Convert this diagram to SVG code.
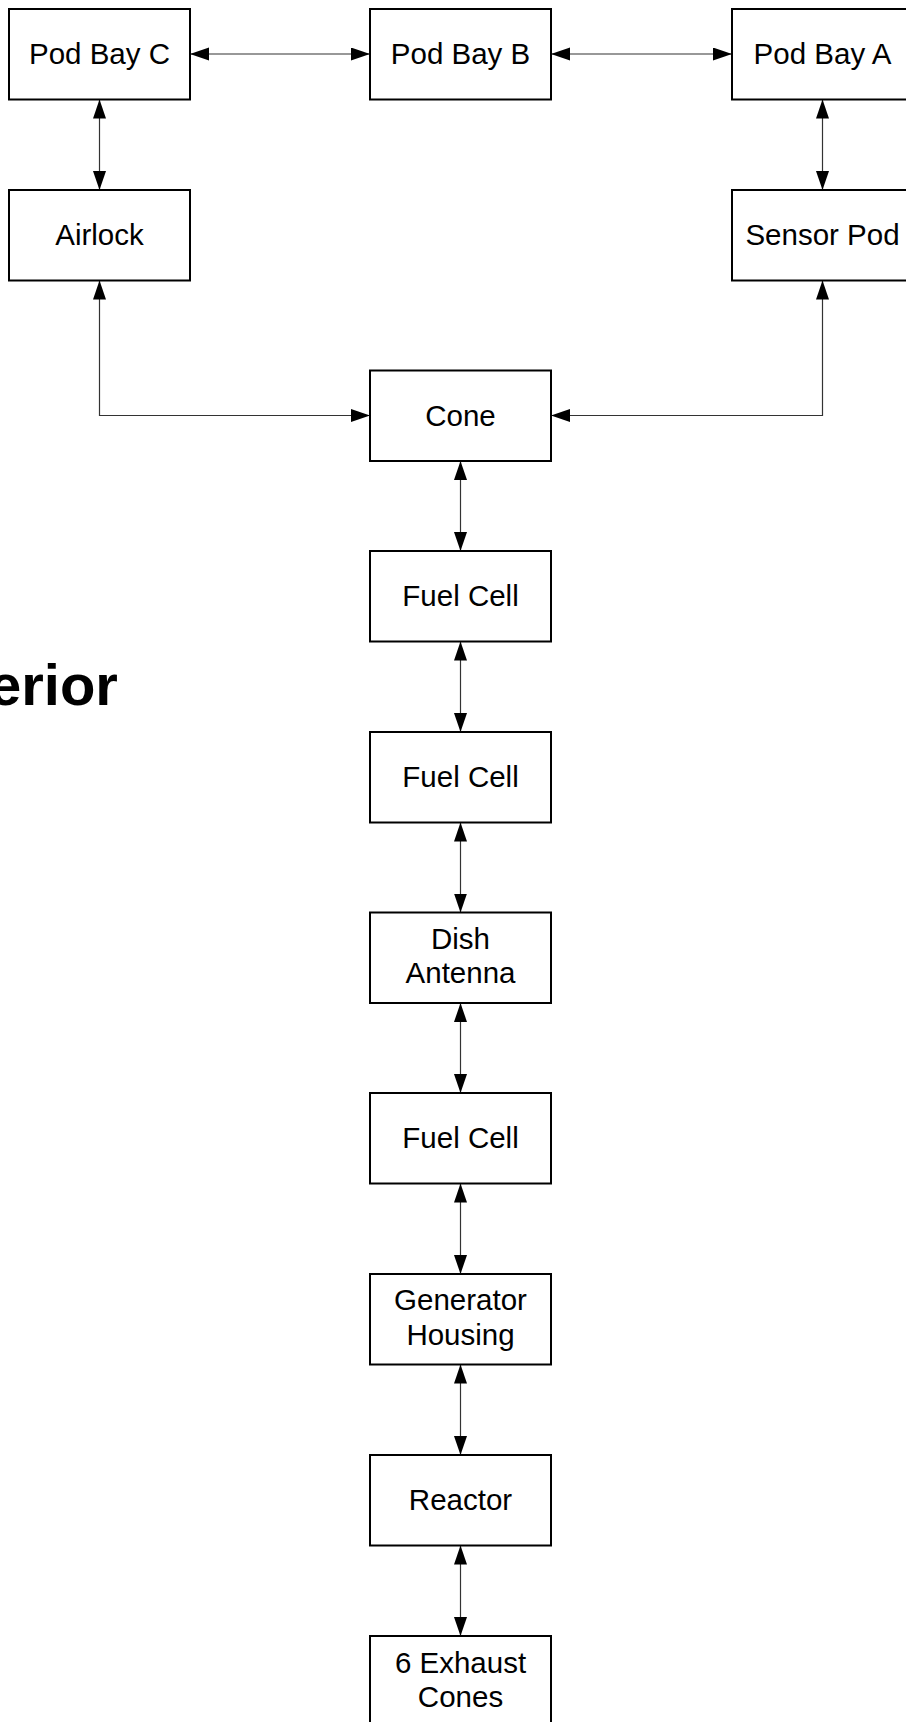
<svg xmlns="http://www.w3.org/2000/svg" width="906" height="1722" viewBox="0 0 906 1722">
<style>
.box{fill:#fff;stroke:#000;stroke-width:2}
.lbl{font-family:"Liberation Sans",Arial,sans-serif;font-size:29.5px;fill:#000;text-anchor:middle}
.title{font-family:"Liberation Sans",Arial,sans-serif;font-size:58px;font-weight:bold;fill:#000}
.edge{fill:none;stroke:#333;stroke-width:1.2}
</style>
<defs>
<marker id="ah" markerUnits="userSpaceOnUse" markerWidth="20" markerHeight="14" refX="19" refY="6.5" orient="auto-start-reverse" viewBox="0 0 20 14">
<path d="M0,0 L19,6.5 L0,13 z" fill="#000"/>
</marker>
</defs>
<rect width="906" height="1722" fill="#fff"/>
<text class="title" x="-11" y="705">erior</text>
<g id="connectors">
<line class="edge" x1="190" y1="54" x2="370" y2="54" marker-start="url(#ah)" marker-end="url(#ah)"/>
<line class="edge" x1="551" y1="54" x2="732" y2="54" marker-start="url(#ah)" marker-end="url(#ah)"/>
<line class="edge" x1="99.5" y1="99.5" x2="99.5" y2="190" marker-start="url(#ah)" marker-end="url(#ah)"/>
<line class="edge" x1="822.5" y1="99.5" x2="822.5" y2="190" marker-start="url(#ah)" marker-end="url(#ah)"/>
<polyline class="edge" points="99.5,280.5 99.5,415.5 370,415.5" marker-start="url(#ah)" marker-end="url(#ah)"/>
<polyline class="edge" points="822.5,280.5 822.5,415.5 551,415.5" marker-start="url(#ah)" marker-end="url(#ah)"/>
<line class="edge" x1="460.5" y1="461" x2="460.5" y2="551" marker-start="url(#ah)" marker-end="url(#ah)"/>
<line class="edge" x1="460.5" y1="641.5" x2="460.5" y2="732" marker-start="url(#ah)" marker-end="url(#ah)"/>
<line class="edge" x1="460.5" y1="822.5" x2="460.5" y2="912.5" marker-start="url(#ah)" marker-end="url(#ah)"/>
<line class="edge" x1="460.5" y1="1003" x2="460.5" y2="1093" marker-start="url(#ah)" marker-end="url(#ah)"/>
<line class="edge" x1="460.5" y1="1183.5" x2="460.5" y2="1274" marker-start="url(#ah)" marker-end="url(#ah)"/>
<line class="edge" x1="460.5" y1="1364.5" x2="460.5" y2="1455" marker-start="url(#ah)" marker-end="url(#ah)"/>
<line class="edge" x1="460.5" y1="1545.5" x2="460.5" y2="1636" marker-start="url(#ah)" marker-end="url(#ah)"/>
</g>
<g id="podbayc"><rect class="box" x="9" y="9" width="181" height="90.5"/><text class="lbl" x="99.5" y="64">Pod Bay C</text></g>
<g id="podbayb"><rect class="box" x="370" y="9" width="181" height="90.5"/><text class="lbl" x="460.5" y="64">Pod Bay B</text></g>
<g id="podbaya"><rect class="box" x="732" y="9" width="181" height="90.5"/><text class="lbl" x="822.5" y="64">Pod Bay A</text></g>
<g id="airlock"><rect class="box" x="9" y="190" width="181" height="90.5"/><text class="lbl" x="99.5" y="245">Airlock</text></g>
<g id="sensorpod"><rect class="box" x="732" y="190" width="181" height="90.5"/><text class="lbl" x="822.5" y="245">Sensor Pod</text></g>
<g id="cone"><rect class="box" x="370" y="370.5" width="181" height="90.5"/><text class="lbl" x="460.5" y="425.5">Cone</text></g>
<g id="fuelcell1"><rect class="box" x="370" y="551" width="181" height="90.5"/><text class="lbl" x="460.5" y="606">Fuel Cell</text></g>
<g id="fuelcell2"><rect class="box" x="370" y="732" width="181" height="90.5"/><text class="lbl" x="460.5" y="787">Fuel Cell</text></g>
<g id="dishantenna"><rect class="box" x="370" y="912.5" width="181" height="90.5"/><text class="lbl" x="460.5" y="948.5">Dish</text><text class="lbl" x="460.5" y="983">Antenna</text></g>
<g id="fuelcell3"><rect class="box" x="370" y="1093" width="181" height="90.5"/><text class="lbl" x="460.5" y="1148">Fuel Cell</text></g>
<g id="generatorhousing"><rect class="box" x="370" y="1274" width="181" height="90.5"/><text class="lbl" x="460.5" y="1310">Generator</text><text class="lbl" x="460.5" y="1344.5">Housing</text></g>
<g id="reactor"><rect class="box" x="370" y="1455" width="181" height="90.5"/><text class="lbl" x="460.5" y="1510">Reactor</text></g>
<g id="exhaustcones"><rect class="box" x="370" y="1636" width="181" height="90.5"/><text class="lbl" x="460.5" y="1672.5">6 Exhaust</text><text class="lbl" x="460.5" y="1707">Cones</text></g>
</svg>
